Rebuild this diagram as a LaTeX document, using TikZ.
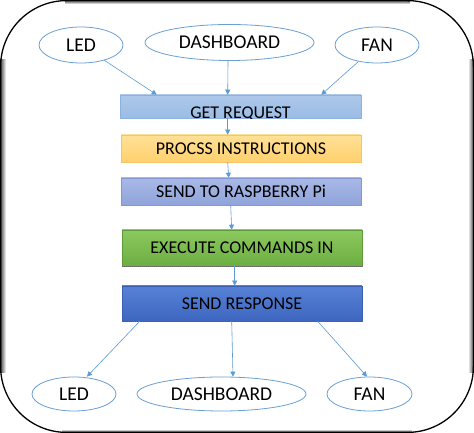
\documentclass[tikz,border=0pt]{standalone}
\usepackage{fontspec}
\setmainfont{Carlito}
\usetikzlibrary{shapes.geometric,arrows.meta,calc}
\definecolor{arrowc}{HTML}{5B9BD5}
\definecolor{ellc}{HTML}{6A9FD4}
\definecolor{getA}{HTML}{ADC8EA}
\definecolor{getB}{HTML}{9BBCE4}
\definecolor{getD}{HTML}{8DB0DD}
\definecolor{procA}{HTML}{FFE197}
\definecolor{procB}{HTML}{FFD06E}
\definecolor{procD}{HTML}{F5C46A}
\definecolor{raspA}{HTML}{A9B9E6}
\definecolor{raspB}{HTML}{8FA4DB}
\definecolor{raspD}{HTML}{8296D0}
\definecolor{exA}{HTML}{8CC95F}
\definecolor{exB}{HTML}{6CAE42}
\definecolor{exD}{HTML}{5E9A38}
\definecolor{reA}{HTML}{5682D6}
\definecolor{reB}{HTML}{3E66C0}
\definecolor{reD}{HTML}{3A5FB0}
\tikzset{
  txt/.style={font=\fontsize{18}{21}\selectfont, text=black},
  otxt/.style={font=\fontsize{19.5}{22}\selectfont, text=black},
  oval/.style={ellipse, draw=ellc, line width=0.8pt, fill=white, inner sep=0pt, otxt},
  stepbox/.style={rectangle, minimum width=240pt, inner sep=0pt, line width=0.6pt, txt},
  conn/.style={draw=arrowc, line width=0.6pt, -{Triangle[length=5pt,width=5pt]}},
}
\begin{document}
\begin{tikzpicture}[x=1pt,y=1pt]
\useasboundingbox (0,0) rectangle (474,433);
\fill[white] (0,0) rectangle (474,433);
% frame
\shade[left color=black!75, right color=white] (0,60) rectangle (6,373);
\shade[right color=black!75, left color=white] (468,60) rectangle (474,373);
\shade[top color=black!80, bottom color=white] (65,429) rectangle (410,433);
\shade[bottom color=black!80, top color=white] (62,0) rectangle (412,4);
\draw[black, line width=1.3pt, rounded corners=66pt] (0.6,0.6) rectangle (473.4,432.4);

% top ellipses
\node[oval, minimum width=84pt, minimum height=36pt] (led1) at (81,388) {LED};
\node[oval, minimum width=169pt, minimum height=36pt] (dash1) at (229.5,390.5) {DASHBOARD};
\node[oval, minimum width=84pt, minimum height=36pt] (fan1) at (377,388) {FAN};

% boxes
\node[stepbox, minimum height=23pt, minimum width=241pt, draw=getD, top color=getA, bottom color=getB] (get) at (240.5,326.5) {};
\begin{scope}
\clip (get.south west) rectangle (get.north east);
\node[txt, anchor=base] (gettxt) at (240.5,314.8) {GET REQUEST};
\end{scope}
\node[stepbox, minimum height=27pt, draw=procD, top color=procA, bottom color=procB] (proc) at (241,284.5) {PROCSS INSTRUCTIONS};
\node[stepbox, minimum height=27pt, draw=raspD, top color=raspA, bottom color=raspB] (rasp) at (241,241.5) {SEND TO RASPBERRY Pi};
\node[stepbox, minimum height=36pt, draw=exD, top color=exA, bottom color=exB] (exec) at (242,185) {EXECUTE COMMANDS IN};
\draw[black!60, line width=1pt, densely dotted] (exec.south west) -- (exec.south east);
\node[stepbox, minimum height=35pt, draw=reD, top color=reA, bottom color=reB] (resp) at (242,129.5) {SEND RESPONSE};
\draw[black!60, line width=1pt, densely dotted] (resp.south west) -- (resp.south east);

% bottom ellipses
\node[oval, minimum width=84pt, minimum height=34pt] (led2) at (74,39) {LED};
\node[oval, minimum width=169pt, minimum height=34pt] (dash2) at (221.5,39) {DASHBOARD};
\node[oval, minimum width=85pt, minimum height=34pt] (fan2) at (369.5,39) {FAN};

% connectors top
\draw[conn] (led1) -- ($(get.north west)+(37,0)$);
\draw[conn] ($(dash1.south)+(-1.5,0)$) -- ($(get.north west)+(108,0)$);
\draw[conn] (fan1) -- ($(get.north east)+(-40,0)$);
% vertical
\draw[conn] ($(get.south west)+(108,0)$) -- ($(proc.north west)+(107,0)$);
\draw[conn] ($(proc.south west)+(107,0)$) -- ($(rasp.north west)+(108,0)$);
\draw[conn] ($(rasp.south west)+(110,0)$) -- ($(exec.north west)+(110,0)$);
\draw[conn] ($(exec.south west)+(113,0)$) -- ($(resp.north west)+(113,0)$);
% bottom
\draw[conn] ($(resp.south west)+(18,0)$) -- ($(led2.north)+(13,0)$);
\draw[conn] ($(resp.south west)+(110,0)$) -- ($(dash2.north)+(11.5,0)$);
\draw[conn] ($(resp.south west)+(196,0)$) -- ($(fan2.north)+(-2.5,0)$);
\end{tikzpicture}
\end{document}
